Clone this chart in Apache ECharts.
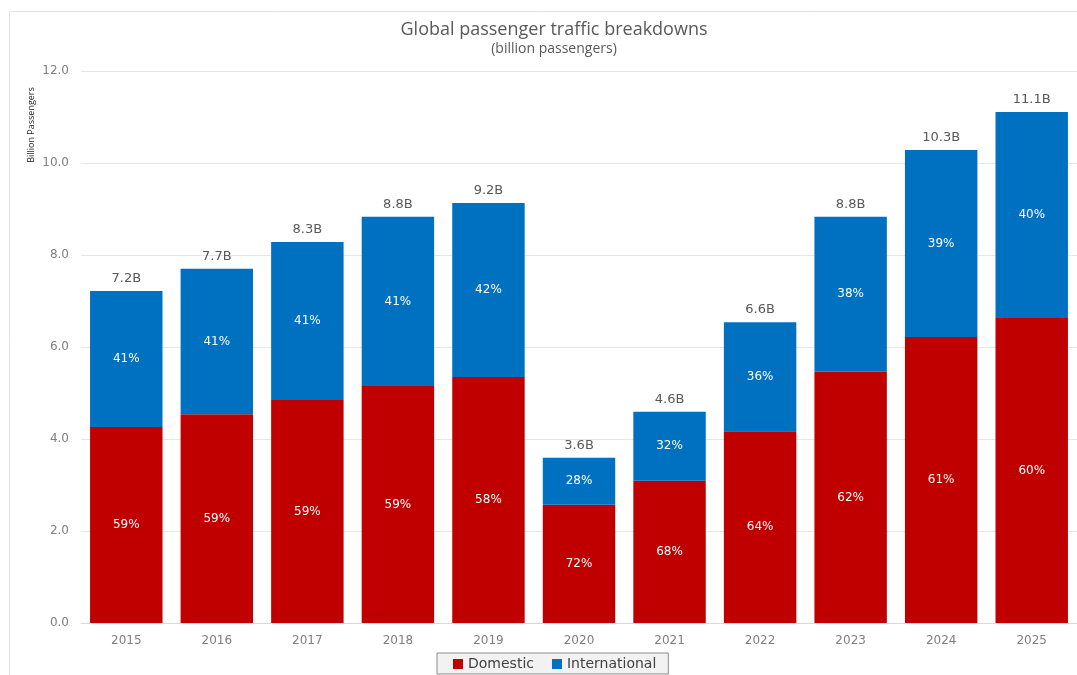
<!DOCTYPE html>
<html>
<head>
<meta charset="utf-8">
<script src="https://cdn.jsdelivr.net/npm/echarts@6/dist/echarts.min.js"></script>
<style>
  html, body { margin: 0; padding: 0; background: #fff; }
  #main { width: 1077px; height: 675px; }
</style>
</head>
<body>
<div id="main"></div>
<script>
// categories and values (billion passengers)
var years = ['2015', '2016', '2017', '2018', '2019', '2020', '2021', '2022', '2023', '2024', '2025'];
var domestic = [4.26, 4.54, 4.85, 5.15, 5.35, 2.57, 3.09, 4.17, 5.46, 6.22, 6.63];
var international = [2.96, 3.16, 3.43, 3.68, 3.78, 1.02, 1.50, 2.37, 3.37, 4.06, 4.48];
var domesticPct = ['59%', '59%', '59%', '59%', '58%', '72%', '68%', '64%', '62%', '61%', '60%'];
var internationalPct = ['41%', '41%', '41%', '41%', '42%', '28%', '32%', '36%', '38%', '39%', '40%'];
var totalLabels = ['7.2B', '7.7B', '8.3B', '8.8B', '9.2B', '3.6B', '4.6B', '6.6B', '8.8B', '10.3B', '11.1B'];

var titleFont = 'Open Sans, Noto Sans, sans-serif';
var font = 'DejaVu Sans, sans-serif';

var chart = echarts.init(document.getElementById('main'));
var option = {
  backgroundColor: '#fff',
  animation: false,
  title: {
    text: 'Global passenger traffic breakdowns',
    subtext: '(billion passengers)',
    left: 549,
    top: 16,
    textAlign: 'center',
    itemGap: 3,
    textStyle: { color: '#595959', fontSize: 18, fontWeight: 'normal', fontFamily: titleFont },
    subtextStyle: { color: '#595959', fontSize: 14, fontFamily: titleFont }
  },
  graphic: [
    {
      type: 'rect',
      shape: { x: 9.5, y: 11.5, width: 1200, height: 800 },
      style: { fill: 'none', stroke: '#e2e2e2', lineWidth: 1 }
    },
    {
      type: 'text',
      x: 31, y: 125,
      rotation: Math.PI / 2,
      style: {
        text: 'Billion Passengers',
        fill: '#222',
        font: '9px ' + titleFont,
        align: 'center',
        verticalAlign: 'middle'
      }
    }
  ],
  legend: {
    bottom: 1,
    left: 437,
    itemWidth: 10,
    itemHeight: 10,
    itemGap: 18,
    padding: [4, 12, 3, 16],
    borderColor: '#8c8c8c',
    borderWidth: 1,
    backgroundColor: '#f2f2f2',
    icon: 'rect',
    textStyle: { color: '#404040', fontSize: 14, fontFamily: font },
    data: ['Domestic', 'International']
  },
  grid: { left: 81, right: -4, top: 71, bottom: 52 },
  xAxis: {
    type: 'category',
    data: years,
    axisLine: { show: true, lineStyle: { color: '#d9d9d9' } },
    axisTick: { show: false },
    axisLabel: { color: '#7f7f7f', fontSize: 12, margin: 12, fontFamily: font }
  },
  yAxis: {
    type: 'value',
    min: 0,
    max: 12,
    interval: 2,
    axisLine: { show: false },
    axisTick: { show: false },
    splitLine: { lineStyle: { color: '#e6e6e6' } },
    axisLabel: {
      color: '#7f7f7f', fontSize: 12, margin: 12, fontFamily: font,
      formatter: function (v) { return v.toFixed(1); }
    }
  },
  series: [
    {
      name: 'Domestic',
      type: 'bar',
      stack: 'total',
      barCategoryGap: '20%',
      data: domestic,
      itemStyle: { color: '#C00000' },
      label: {
        show: true,
        position: 'inside',
        color: '#fff',
        fontSize: 12,
        fontFamily: font,
        formatter: function (p) { return domesticPct[p.dataIndex]; }
      }
    },
    {
      name: 'International',
      type: 'bar',
      stack: 'total',
      barCategoryGap: '20%',
      data: international,
      itemStyle: { color: '#0070C0' },
      label: {
        show: true,
        position: 'inside',
        color: '#fff',
        fontSize: 12,
        fontFamily: font,
        formatter: function (p) { return internationalPct[p.dataIndex]; }
      }
    },
    {
      name: 'Total',
      type: 'bar',
      stack: 'total',
      data: years.map(function () { return 0; }),
      itemStyle: { color: 'transparent' },
      label: {
        show: true,
        position: 'top',
        distance: 6,
        color: '#595959',
        fontSize: 13,
        fontFamily: font,
        formatter: function (p) { return totalLabels[p.dataIndex]; }
      }
    }
  ]
};
chart.setOption(option);
</script>
</body>
</html>
